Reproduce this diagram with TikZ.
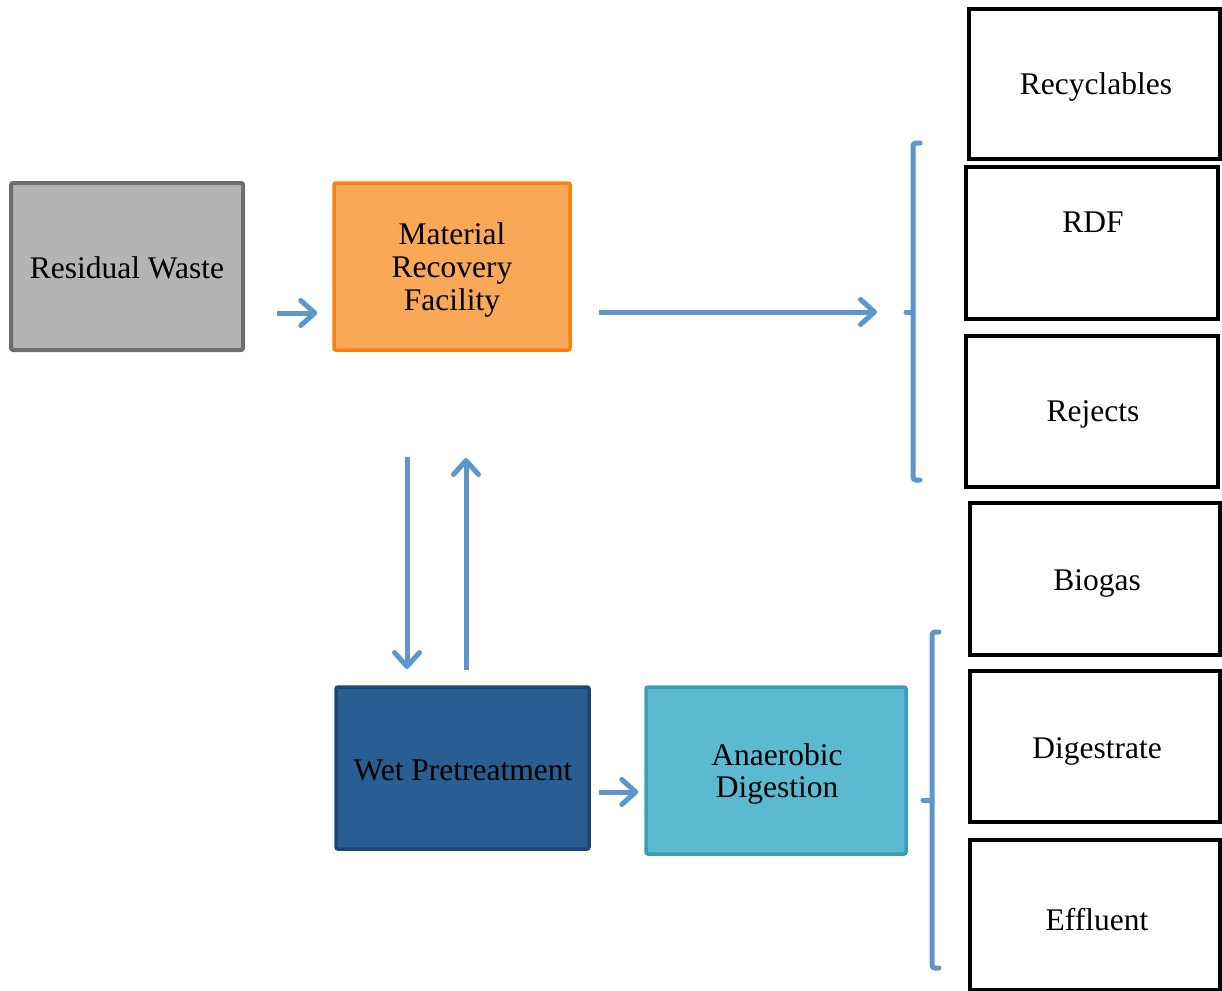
\documentclass[tikz,border=0pt]{standalone}
\usepackage{fontspec}
\setmainfont{Liberation Serif}
\usetikzlibrary{arrows.meta}
\definecolor{flow}{HTML}{5E95CA}
\definecolor{rwfill}{HTML}{B4B4B4}
\definecolor{rwline}{HTML}{6E6E6E}
\definecolor{mrffill}{HTML}{F9A857}
\definecolor{mrfline}{HTML}{FD7F10}
\definecolor{wpfill}{HTML}{285E91}
\definecolor{wpline}{HTML}{1F4670}
\definecolor{adfill}{HTML}{5BBAD2}
\definecolor{adline}{HTML}{3A9DB0}
\tikzset{
  proc/.style={rectangle, rounded corners=2pt, inner sep=0pt},
  outbox/.style={rectangle, draw=black, line width=4pt, fill=white,
    inner sep=0pt, minimum width=251pt, minimum height=149pt},
  lbl/.style={align=center, inner sep=0pt,
    font=\fontsize{31.5}{33}\selectfont},
  flowarrow/.style={draw=flow, line width=5pt,
    -{Straight Barb[length=14pt,width=25pt,line width=5pt,line cap=round,line join=round]}},
  bracket/.style={draw=flow, line width=5pt, rounded corners=3pt, line cap=round}
}
\begin{document}
\begin{tikzpicture}[x=1pt,y=-1pt]
\useasboundingbox (0,0) rectangle (1222,990);

% process boxes
\node[proc, draw=rwline, fill=rwfill, line width=4pt,
  minimum width=232pt, minimum height=167pt] (rw) at (127,266.5) {};
\node[proc, draw=mrfline, fill=mrffill, line width=3.5pt,
  minimum width=236pt, minimum height=167pt] (mrf) at (452,266.5) {};
\node[proc, draw=wpline, fill=wpfill, line width=3.5pt,
  minimum width=253pt, minimum height=162pt] (wp) at (462.5,768) {};
\node[proc, draw=adline, fill=adfill, line width=3.5pt,
  minimum width=260pt, minimum height=167pt] (ad) at (776,770.5) {};

\node[lbl] (rwt) at (127,268) {Residual Waste};
\node[lbl] (mrft) at (452,269.5) {Material\\Recovery\\Facility};
\node[lbl] (wpt) at (463,770) {Wet Pretreatment};
\node[lbl] (adt) at (777,773.5) {Anaerobic\\[-1pt]Digestion};

% output boxes
\node[outbox] (rec) at (1094.5,84) {};
\node[outbox, minimum width=252pt, minimum height=152pt] (rdf) at (1092,243) {};
\node[outbox, minimum width=252pt, minimum height=151pt] (rej) at (1092,411.5) {};
\node[outbox, minimum width=250pt, minimum height=152pt] (bio) at (1095,579) {};
\node[outbox, minimum width=250pt, minimum height=151pt] (dig) at (1095,746.5) {};
\node[outbox, minimum width=250pt, minimum height=150pt] (eff) at (1095,915) {};

\node[lbl] (rect) at (1096,87) {Recyclables};
\node[lbl] (rdft) at (1093,222) {RDF};
\node[lbl] (rejt) at (1093,414) {Rejects};
\node[lbl] (biot) at (1097,583) {Biogas};
\node[lbl] (digt) at (1097,751) {Digestrate};
\node[lbl] (efft) at (1097,920) {Effluent};

% bracket anchors
\coordinate (b1top) at (920,143);
\coordinate (b1bot) at (920,480);
\coordinate (b1mid) at (913,312);
\coordinate (b2top) at (939,632);
\coordinate (b2bot) at (939,968);
\coordinate (b2mid) at (932,800);

% connectors
\draw[flowarrow] (277,313) -- ([xshift=-15pt]mrf.west |- 0,313);
\draw[flowarrow] (599,312) -- ([xshift=-36pt]b1mid);
\draw[flowarrow] (407,457) -- (407,669);
\draw[flowarrow] (466,670) -- (466,458);
\draw[flowarrow] (599,792) -- ([xshift=-6pt]ad.west |- 0,792);

% brackets
\draw[bracket] (b1top) -- (913,143) -- (913,480) -- (b1bot);
\draw[bracket] (b1mid) -- (906,312);
\draw[bracket] (b2top) -- (932,632) -- (932,968) -- (b2bot);
\draw[bracket] (b2mid) -- (923,800);
\end{tikzpicture}
\end{document}
